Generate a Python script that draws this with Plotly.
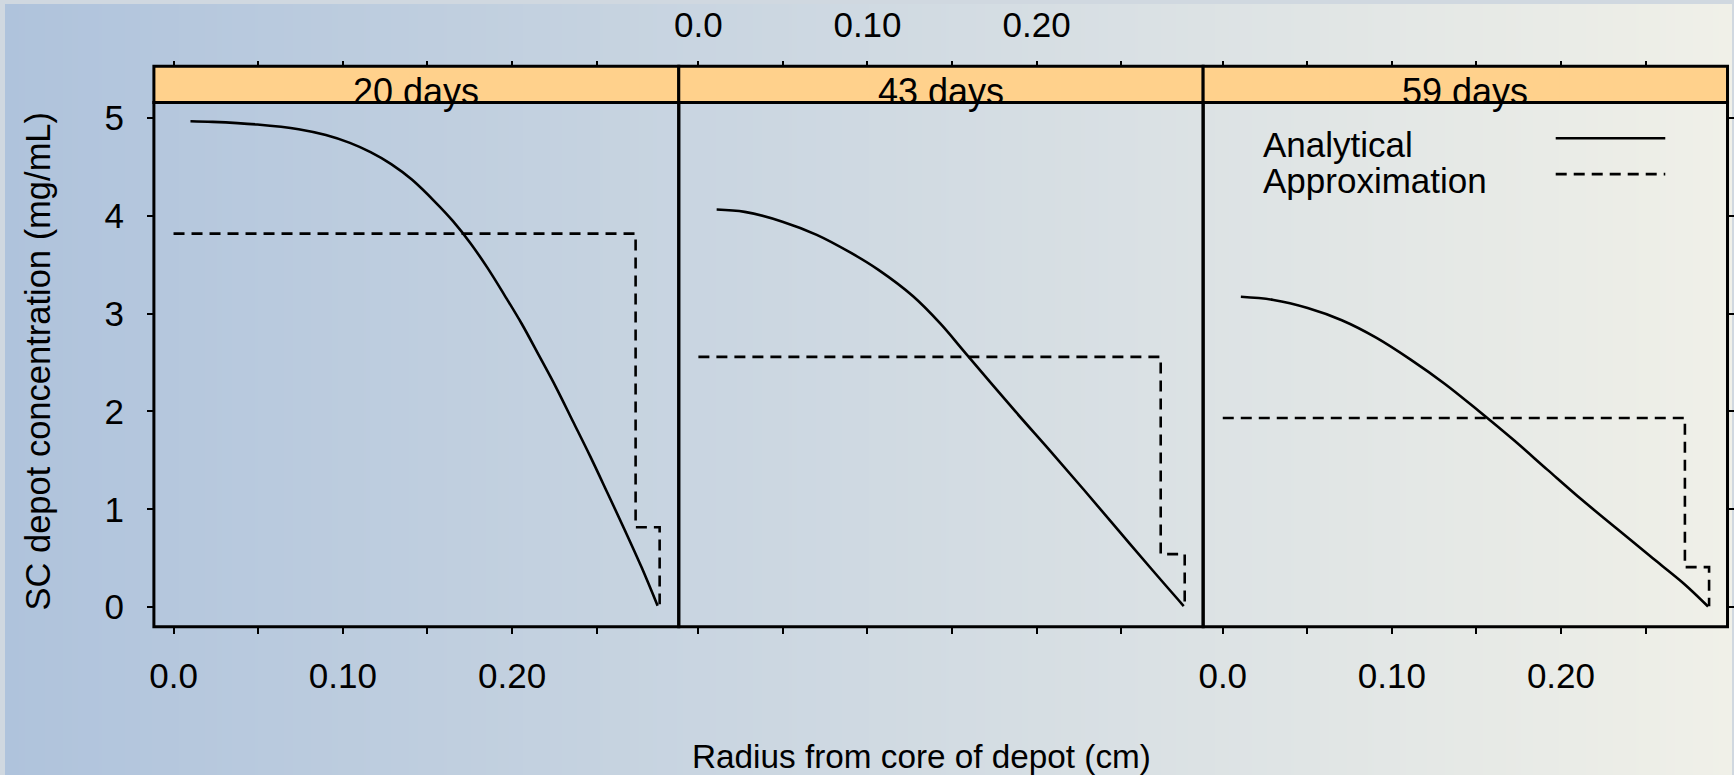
import base64
import struct
import zlib

import plotly.graph_objects as go

# ---- data -------------------------------------------------------------
PANELS = ["20 days", "43 days", "59 days"]

# analytical concentration profile (radius cm, concentration mg/mL)
R_ANA_20 = [0.0100, 0.0231, 0.0495, 0.0739, 0.0900, 0.1042, 0.1164, 0.1286, 0.1408,
            0.1549, 0.1651, 0.1752, 0.1854, 0.1955, 0.2057, 0.2158, 0.2259, 0.2360,
            0.2462, 0.2564, 0.2665, 0.2766, 0.2860]
C_ANA_20 = [4.967, 4.960, 4.933, 4.885, 4.825, 4.745, 4.650, 4.528, 4.370,
            4.135, 3.945, 3.725, 3.470, 3.190, 2.897, 2.576, 2.250, 1.898,
            1.541, 1.167, 0.792, 0.405, 0.015]

R_ANA_43 = [0.0108, 0.0274, 0.0497, 0.0700, 0.0903, 0.1065, 0.1268, 0.1430, 0.1582,
            0.1876, 0.2079, 0.2282, 0.2484, 0.2687, 0.2870]
C_ANA_43 = [4.064, 4.040, 3.940, 3.805, 3.620, 3.447, 3.180, 2.900, 2.592,
            1.998, 1.600, 1.195, 0.785, 0.375, 0.012]

R_ANA_59 = [0.0107, 0.0300, 0.0502, 0.0704, 0.0907, 0.1109, 0.1312, 0.1514, 0.1717,
            0.1919, 0.2122, 0.2324, 0.2527, 0.2729, 0.2870]
C_ANA_59 = [3.172, 3.140, 3.058, 2.933, 2.755, 2.533, 2.284, 2.005, 1.713,
            1.406, 1.100, 0.812, 0.522, 0.238, 0.007]

# compartment approximation: step levels starting at each radius
R_APP_20 = [0.0, 0.2730, 0.2872]
C_APP_20 = [3.818, 0.817, 0.030]
R_APP_43 = [0.0, 0.2734, 0.2876]
C_APP_43 = [2.558, 0.542, 0.020]
R_APP_59 = [0.0, 0.2733, 0.2876]
C_APP_59 = [1.934, 0.410, 0.010]

X_TICKS = [0.0, 0.05, 0.10, 0.15, 0.20, 0.25]
X_TICK_TEXT = ["0.0", "", "0.10", "", "0.20", ""]
Y_TICKS = [0, 1, 2, 3, 4, 5]

ANA = [(R_ANA_20, C_ANA_20), (R_ANA_43, C_ANA_43), (R_ANA_59, C_ANA_59)]
APP = [(R_APP_20, C_APP_20), (R_APP_43, C_APP_43), (R_APP_59, C_APP_59)]

# ---- geometry ---------------------------------------------------------
W, H = 1734, 775
PANEL_X = [149.5, 676.5, 1203, 1729.5]
PANEL_TOP, PANEL_BOTTOM, STRIP_TOP = 99, 626, 62.5
X_RANGE = [-0.0116, 0.2985]
Y_RANGE = [-0.200, 5.158]

FONT = "Liberation Sans, Arial, Helvetica, sans-serif"
TICK_FS = 35
STRIP_FS = 36
KEY_FS = 35
STRIP_FILL = "#ffd18c"
BORDER = 3
DASH = "11px,7px"


def px(x):
    return x / W


def py(y):
    return 1 - y / H


def gradient_png(width, left, right):
    row = bytearray([0])
    for i in range(width):
        t = i / (width - 1)
        for a, b in zip(left, right):
            row.append(int(round(a + (b - a) * t)))
    raw = bytes(row)

    def chunk(tag, data):
        c = struct.pack(">I", len(data)) + tag + data
        return c + struct.pack(">I", zlib.crc32(tag + data) & 0xFFFFFFFF)

    png = b"\x89PNG\r\n\x1a\n"
    png += chunk(b"IHDR", struct.pack(">IIBBBBB", width, 1, 8, 2, 0, 0, 0))
    png += chunk(b"IDAT", zlib.compress(raw, 9))
    png += chunk(b"IEND", b"")
    return "data:image/png;base64," + base64.b64encode(png).decode()


fig = go.Figure()

for i, ((ra, ca), (rp, cp)) in enumerate(zip(ANA, APP)):
    sfx = "" if i == 0 else str(i + 1)
    fig.add_trace(go.Scatter(x=ra, y=ca, xaxis="x" + sfx, yaxis="y" + sfx,
                             mode="lines",
                             line=dict(color="black", width=2.6, shape="spline", smoothing=1.0),
                             showlegend=False, hoverinfo="skip"))
    fig.add_trace(go.Scatter(x=rp, y=cp, xaxis="x" + sfx, yaxis="y" + sfx,
                             mode="lines", line=dict(color="black", width=2.6, dash=DASH, shape="hv"),
                             showlegend=False, hoverinfo="skip"))
    # empty trace so the top tick axis of this panel is created
    fig.add_trace(go.Scatter(x=[], y=[], xaxis="x" + str(i + 4), yaxis="y" + sfx,
                             showlegend=False, hoverinfo="skip"))

layout = dict(
    width=W, height=H, autosize=False,
    margin=dict(l=0, r=0, t=0, b=0, pad=0),
    paper_bgcolor="#d0d8e0", plot_bgcolor="rgba(0,0,0,0)",
    font=dict(family=FONT, size=TICK_FS, color="black"),
    showlegend=False,
)

ydom = [py(PANEL_BOTTOM), py(PANEL_TOP)]
for i in range(3):
    sfx = "" if i == 0 else str(i + 1)
    xdom = [px(PANEL_X[i]), px(PANEL_X[i + 1])]
    layout["xaxis" + sfx] = dict(
        domain=xdom, range=X_RANGE, anchor="y" + sfx,
        tickmode="array", tickvals=X_TICKS, ticktext=X_TICK_TEXT,
        showticklabels=i in (0, 2), ticks="outside", ticklen=6, tickwidth=2, tickcolor="black",
        ticklabelstandoff=12,
        showline=False, showgrid=False, zeroline=False, tickfont=dict(size=TICK_FS),
    )
    ycfg = dict(
        domain=ydom, range=Y_RANGE, anchor="x" + sfx,
        tickmode="array", tickvals=Y_TICKS,
        showline=False, showgrid=False, zeroline=False, tickfont=dict(size=TICK_FS),
    )
    if i == 0:
        ycfg.update(ticks="outside", ticklen=6, tickwidth=2, tickcolor="black",
                    showticklabels=True, ticklabelstandoff=16)
    elif i == 2:
        ycfg.update(side="right", ticks="outside", ticklen=6, tickwidth=2, tickcolor="black",
                    showticklabels=False)
    else:
        ycfg.update(ticks="", showticklabels=False)
    layout["yaxis" + sfx] = ycfg

    # ticks above the strip (labels only on the middle panel)
    layout["xaxis" + str(i + 4)] = dict(
        overlaying="x" + sfx, side="top", anchor="free", position=py(STRIP_TOP),
        range=X_RANGE, tickmode="array", tickvals=X_TICKS, ticktext=X_TICK_TEXT,
        showticklabels=(i == 1), ticks="outside", ticklen=5, tickwidth=2, tickcolor="black",
        ticklabelstandoff=10,
        showline=False, showgrid=False, zeroline=False, tickfont=dict(size=TICK_FS),
    )

fig.update_layout(**layout)

# background gradient
fig.add_layout_image(dict(
    source=gradient_png(W, (175, 195, 220), (240, 240, 232)),
    xref="paper", yref="paper", x=0, y=1, sizex=1, sizey=1,
    xanchor="left", yanchor="top", sizing="stretch", layer="below",
))

# panel frames, strips and strip labels
for i, name in enumerate(PANELS):
    fig.add_shape(type="rect", xref="paper", yref="paper",
                  x0=px(PANEL_X[i]), x1=px(PANEL_X[i + 1]),
                  y0=py(PANEL_BOTTOM), y1=py(PANEL_TOP),
                  fillcolor="rgba(0,0,0,0)", line=dict(color="black", width=BORDER), layer="above")
    fig.add_shape(type="rect", xref="paper", yref="paper",
                  x0=px(PANEL_X[i]), x1=px(PANEL_X[i + 1]),
                  y0=py(PANEL_TOP), y1=py(STRIP_TOP),
                  fillcolor=STRIP_FILL, line=dict(color="black", width=BORDER), layer="above")
    fig.add_annotation(x=px((PANEL_X[i] + PANEL_X[i + 1]) / 2), y=py(88),
                       xref="paper", yref="paper", text=name, showarrow=False,
                       xanchor="center", yanchor="middle", font=dict(size=STRIP_FS))

# axis titles
fig.add_annotation(x=px(33), y=py((PANEL_TOP + PANEL_BOTTOM) / 2 - 4), xref="paper", yref="paper",
                   text="SC depot concentration (mg/mL)", textangle=-90, showarrow=False,
                   xanchor="center", yanchor="middle", font=dict(size=34.5))
fig.add_annotation(x=px(920), y=py(756), xref="paper", yref="paper",
                   text="Radius from core of depot (cm)", showarrow=False,
                   xanchor="center", yanchor="middle", font=dict(size=33.3))

# key inside the last panel
KEY = [("Analytical", "solid", 135), ("Approximation", DASH, 171)]
for label, dash, yk in KEY:
    fig.add_annotation(x=px(1261), y=py(yk + 6), xref="paper", yref="paper", text=label,
                       showarrow=False, xanchor="left", yanchor="middle", font=dict(size=KEY_FS))
    fig.add_shape(type="line", xref="paper", yref="paper",
                  x0=px(1557), x1=px(1667), y0=py(yk), y1=py(yk),
                  line=dict(color="black", width=2.6, dash=dash))

fig.write_html("out.html")
